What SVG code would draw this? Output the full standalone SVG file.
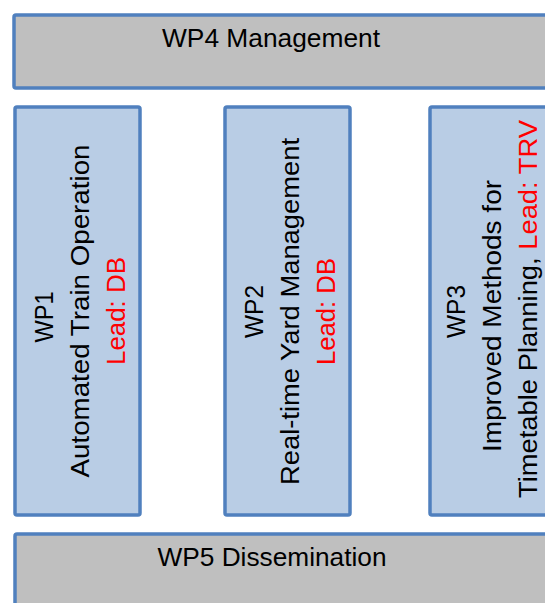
<svg xmlns="http://www.w3.org/2000/svg" width="545" height="603" viewBox="0 0 545 603">
<style>
.gray{fill:#BFBFBF;stroke:#5080BE;stroke-width:3.5}
.blue{fill:#B9CDE5;stroke:#5080BE;stroke-width:3.5}
text{font-family:"Liberation Sans",Arial,sans-serif;font-size:26px;fill:#000;text-anchor:middle}
.red{fill:#FF0000}
</style>
<rect width="545" height="603" fill="#fff"/>
<g id="wp4">
<rect class="gray" x="14" y="15" width="600" height="73" rx="2"/>
<text x="271" y="47" textLength="218" lengthAdjust="spacingAndGlyphs">WP4 Management</text>
</g>
<g id="wp1">
<rect class="blue" x="15" y="107" width="125" height="408" rx="2"/>
<text transform="translate(53,317) rotate(-90)" textLength="51" lengthAdjust="spacingAndGlyphs">WP1</text>
<text transform="translate(89,311) rotate(-90)" textLength="333" lengthAdjust="spacingAndGlyphs">Automated Train Operation</text>
<text class="red" transform="translate(125,311) rotate(-90)" textLength="108" lengthAdjust="spacingAndGlyphs">Lead: DB</text>
</g>
<g id="wp2">
<rect class="blue" x="225" y="107" width="125" height="408" rx="2"/>
<text transform="translate(263,311.5) rotate(-90)" textLength="53" lengthAdjust="spacingAndGlyphs">WP2</text>
<text transform="translate(299,311.5) rotate(-90)" textLength="347" lengthAdjust="spacingAndGlyphs">Real-time Yard Management</text>
<text class="red" transform="translate(335,311.5) rotate(-90)" textLength="107" lengthAdjust="spacingAndGlyphs">Lead: DB</text>
</g>
<g id="wp3">
<rect class="blue" x="430" y="107" width="200" height="408" rx="2"/>
<text transform="translate(465,311.5) rotate(-90)" textLength="53" lengthAdjust="spacingAndGlyphs">WP3</text>
<text transform="translate(501,316) rotate(-90)" textLength="272" lengthAdjust="spacingAndGlyphs">Improved Methods for</text>
<text transform="translate(537,309) rotate(-90)" textLength="378" lengthAdjust="spacingAndGlyphs">Timetable Planning, <tspan class="red">Lead: TRV</tspan></text>
</g>
<g id="wp5">
<rect class="gray" x="15" y="534" width="600" height="100" rx="2"/>
<text x="272" y="566" textLength="229" lengthAdjust="spacingAndGlyphs">WP5 Dissemination</text>
</g>
<g id="connectors"></g>
</svg>
